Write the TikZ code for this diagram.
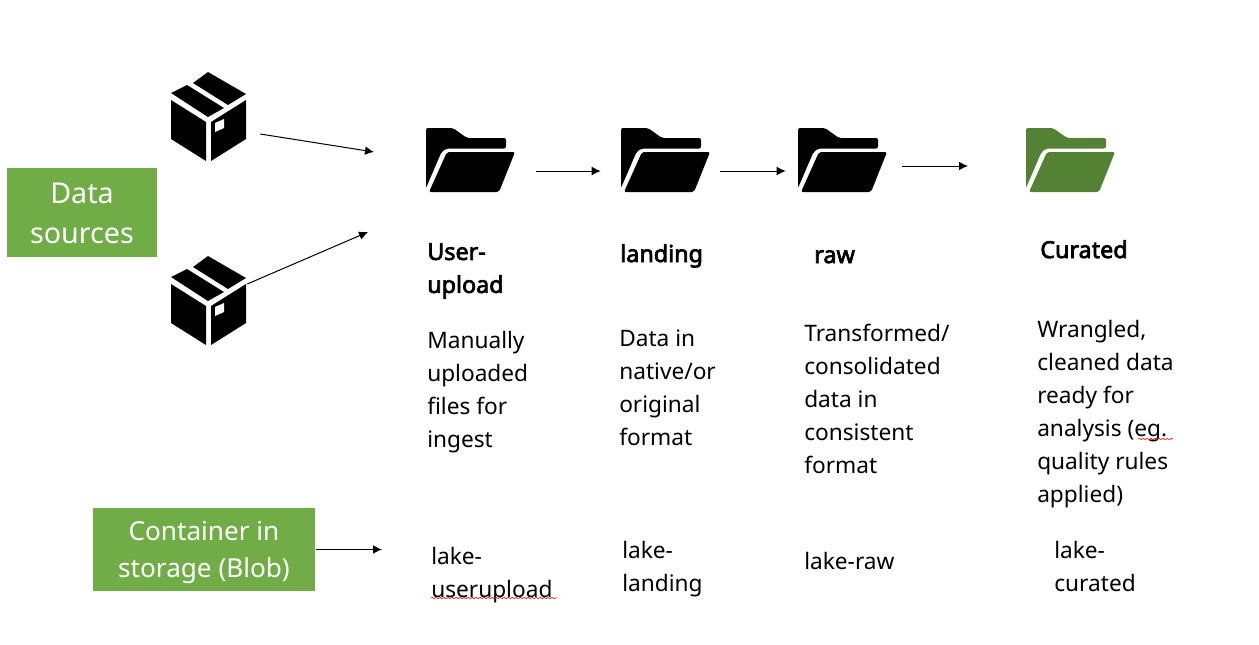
\documentclass[tikz,border=0pt]{standalone}
\usepackage{fontspec}
\setmainfont{Noto Sans}
\newfontfamily\headfont{Noto Sans}[FakeBold=3]
\usetikzlibrary{arrows.meta, decorations.pathmorphing}
\definecolor{sourcegreen}{HTML}{70AD47}
\definecolor{foldergreen}{HTML}{548235}
\tikzset{
    flow/.style={-{Latex[length=6.75pt, width=6.5pt]}, black, line width=0.75pt},
    greenbox/.style={fill=sourcegreen, text=white, align=center, inner sep=0pt},
    headtext/.style={anchor=north west, align=left, inner sep=0pt, font=\headfont\fontsize{17.5}{24.7}\selectfont},
    bodytext/.style={anchor=north west, align=left, inner sep=0pt, font=\fontsize{17}{24.7}\selectfont},
    spot/.style={inner sep=0pt, minimum width=60pt, minimum height=48pt},
    squiggle/.style={red, line width=0.4pt, decorate, decoration={snake, amplitude=0.6pt, segment length=3pt}},
    folder/.pic={
        \fill[pic actions, rounded corners=1.5pt] (-44.5,-32) -- (-17.5,-32) -- (-3.5,-22) -- (35.5,-22) -- (35.5,-11.5) -- (-24,-11.5) -- (-29,-8) -- (-44.5,28) -- cycle;
        \fill[pic actions, rounded corners=1.5pt] (-23.5,-8) -- (44.5,-8) -- (28.5,32) -- (-41.5,32) -- cycle;
    },
    parcel/.pic={
        \fill (-0.5,-45) -- (37.5,-23) -- (19.5,-12) -- (-15.5,-34) -- cycle;
        \fill (-21.5,-32) -- (15.5,-9) -- (-0.5,0) -- (-37.5,-24) -- cycle;
        \fill (-37.5,-17) -- (-2.5,5) -- (-2.5,44) -- (-37.5,22) -- cycle;
        \fill (2.5,5) -- (37.5,-17) -- (37.5,22) -- (2.5,44) -- cycle;
        \fill[white] (6.5,6) -- (15.5,2) -- (15.5,11) -- (6.5,15) -- cycle;
    }
}

\begin{document}
\begin{tikzpicture}[x=0.75pt, y=-0.75pt]
    \useasboundingbox (0,0) rectangle (1259,644);

    \node[greenbox, minimum width=112.5pt, minimum height=66.75pt] (datasources) at (82,212.5) {};
    \node[greenbox, minimum width=166.5pt, minimum height=62.25pt] (container) at (204,549.5) {};
    \node[text=white, align=center, inner sep=0pt, font=\fontsize{21.5}{30}\selectfont] (datasourceslabel) at (82,213) {Data\\sources};
    \node[text=white, align=center, inner sep=0pt, font=\fontsize{19.6}{27.75}\selectfont] (containerlabel) at (204,552) {Container in\\storage (Blob)};

    \node[spot] (parcelone) at (208.5,117) {};
    \node[spot] (parceltwo) at (208.5,301) {};
    \pic at (parcelone) {parcel};
    \pic at (parceltwo) {parcel};

    \node[spot] (userfolder) at (470.5,160) {};
    \node[spot] (landingfolder) at (665.5,160) {};
    \node[spot] (rawfolder) at (842.5,160) {};
    \node[spot] (curatedfolder) at (1070.5,160) {};
    \pic[fill=black] at (userfolder) {folder};
    \pic[fill=black] at (landingfolder) {folder};
    \pic[fill=black] at (rawfolder) {folder};
    \pic[fill=foldergreen] at (curatedfolder) {folder};

    \coordinate (uploadin) at (374,152);
    \coordinate (uploadintwo) at (368,232);
    \coordinate (containerout) at (382,549.5);
    \coordinate (curatedin) at (968,166);

    \draw[flow] ([shift={(11.5,17)}]parcelone.east) -- (uploadin);
    \draw[flow] ([shift={(-1.5,-17)}]parceltwo.east) -- (uploadintwo);
    \draw[flow] ([shift={(25.5,11)}]userfolder.east) -- ([shift={(-24.5,11)}]landingfolder.west);
    \draw[flow] ([shift={(14.5,11)}]landingfolder.east) -- ([shift={(-16.5,11)}]rawfolder.west);
    \draw[flow] ([shift={(19.5,6)}]rawfolder.east) -- (curatedin);
    \draw[flow] (container.east) ++(1,0) -- (containerout);

    \node[headtext] (userhead) at (427,243) {User-\\upload};
    \node[headtext] (landinghead) at (620,244) {landing};
    \node[headtext] (rawhead) at (814,250) {raw};
    \node[headtext] (curatedhead) at (1040,240) {Curated};

    \node[bodytext] (userbody) at (427,331) {Manually\\uploaded\\files for\\ingest};
    \node[bodytext] (landingbody) at (619,330) {Data in\\native/or\\original\\format};
    \node[bodytext] (rawbody) at (804,324) {Transformed/\\consolidated\\data in\\consistent\\format};
    \node[bodytext] (curatedbody) at (1037,320) {Wrangled,\\cleaned data\\ready for\\analysis (eg.\\quality rules\\applied)};

    \node[bodytext] (userblob) at (431,547) {lake-\\userupload};
    \node[bodytext] (landingblob) at (622,541) {lake-\\landing};
    \node[bodytext] (rawblob) at (804,552) {lake-raw};
    \node[bodytext] (curatedblob) at (1054,541) {lake-\\curated};

    \draw[squiggle] (431,598) -- (557,598);
    \draw[squiggle] (1138,439) -- (1173,439);
\end{tikzpicture}
\end{document}
